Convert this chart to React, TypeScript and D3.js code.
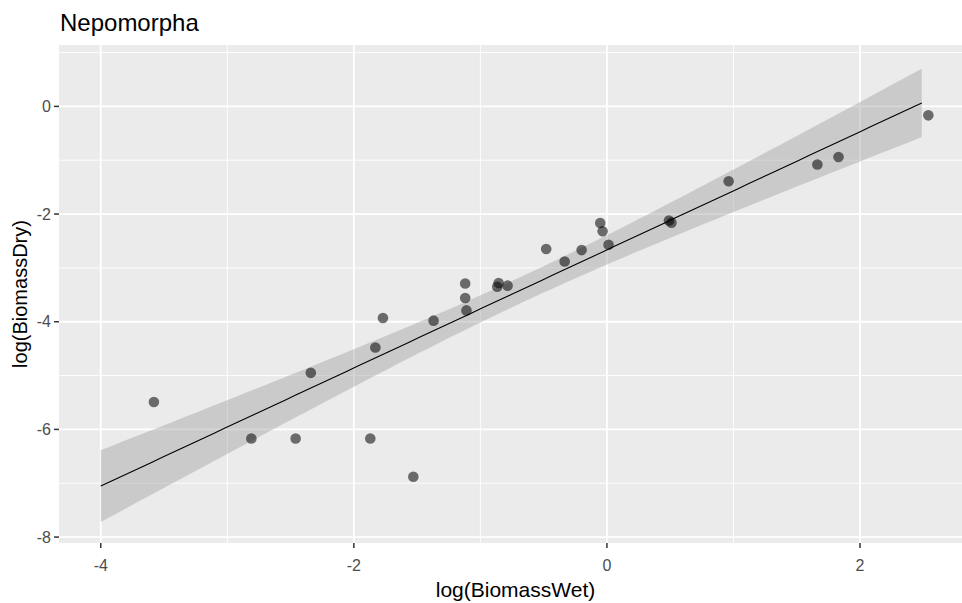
import React from "react";
import * as d3 from "d3";

// Observations (natural log of wet and dry biomass)
const wetLog = [
  -3.58, -2.81, -2.46, -2.34, -1.87, -1.83, -1.77, -1.53, -1.37, -1.12, -1.12, -1.11,
  -0.856, -0.867, -0.785, -0.48, -0.334, -0.2, -0.053, -0.034, 0.013, 0.49, 0.51,
  0.962, 1.663, 1.83, 2.54,
];
const dryLog = [
  -5.49, -6.17, -6.17, -4.95, -6.17, -4.48, -3.93, -6.88, -3.98, -3.29, -3.56, -3.79,
  -3.28, -3.35, -3.33, -2.65, -2.88, -2.67, -2.165, -2.32, -2.57, -2.12, -2.16,
  -1.39, -1.08, -0.94, -0.167,
];

// Linear fit and its 95% confidence band
const FIT_X_RANGE = [-4, 2.488];
const FIT_INTERCEPT = -2.665;
const FIT_SLOPE = 1.097;
const FIT_X_MEAN = -0.663;
const FIT_HALF_MIN = 0.244; // half-width of the band at the mean of x
const FIT_HALF_GROWTH = 0.186; // growth of the half-width away from the mean

// Axes
const X_LIMITS = [-4.33, 2.885];
const Y_LIMITS = [-8.11, 1.14];
const xMajor = [-4, -2, 0, 2];
const xMinor = [-3, -1, 1];
const yMajor = [-8, -6, -4, -2, 0];
const yMinor = [-7, -5, -3, -1, 1];

const TITLE = "Nepomorpha";
const X_TITLE = "log(BiomassWet)";
const Y_TITLE = "log(BiomassDry)";

const W = 962;
const H = 603;
const panel = { left: 59, right: 972, top: 45, bottom: 543 };
const FONT = "'Liberation Sans', Arial, Helvetica, sans-serif";

export default function App() {
  const x = d3.scaleLinear().domain(X_LIMITS).range([panel.left, panel.right]);
  const y = d3.scaleLinear().domain(Y_LIMITS).range([panel.bottom, panel.top]);

  const fitXs = d3.range(0, 81).map(
    (i) => FIT_X_RANGE[0] + ((FIT_X_RANGE[1] - FIT_X_RANGE[0]) * i) / 80
  );
  const band = fitXs.map((xv) => {
    const fit = FIT_INTERCEPT + FIT_SLOPE * xv;
    const half = Math.sqrt(
      FIT_HALF_MIN ** 2 + FIT_HALF_GROWTH ** 2 * (xv - FIT_X_MEAN) ** 2
    );
    return { x: xv, fit, lo: fit - half, hi: fit + half };
  });

  const area = d3
    .area<{ x: number; lo: number; hi: number }>()
    .x((d) => x(d.x))
    .y0((d) => y(d.lo))
    .y1((d) => y(d.hi));
  const line = d3
    .line<{ x: number; fit: number }>()
    .x((d) => x(d.x))
    .y((d) => y(d.fit));

  const pw = panel.right - panel.left;
  const ph = panel.bottom - panel.top;

  return (
    <svg
      width={W}
      height={H}
      style={{ position: "absolute", left: 0, top: 0, background: "#fff" }}
      fontFamily={FONT}
    >
      <defs>
        <clipPath id="panel-clip">
          <rect x={panel.left} y={panel.top} width={pw} height={ph} />
        </clipPath>
      </defs>

      <text x={60} y={31} fontSize={24} fill="#000">
        {TITLE}
      </text>

      <rect x={panel.left} y={panel.top} width={pw} height={ph} fill="#EBEBEB" />

      <g clipPath="url(#panel-clip)">
        {yMinor.map((v) => (
          <line key={`ym${v}`} x1={panel.left} x2={panel.right} y1={y(v)} y2={y(v)} stroke="#fff" strokeWidth={0.9} />
        ))}
        {xMinor.map((v) => (
          <line key={`xm${v}`} x1={x(v)} x2={x(v)} y1={panel.top} y2={panel.bottom} stroke="#fff" strokeWidth={0.9} />
        ))}
        {yMajor.map((v) => (
          <line key={`yM${v}`} x1={panel.left} x2={panel.right} y1={y(v)} y2={y(v)} stroke="#fff" strokeWidth={1.8} />
        ))}
        {xMajor.map((v) => (
          <line key={`xM${v}`} x1={x(v)} x2={x(v)} y1={panel.top} y2={panel.bottom} stroke="#fff" strokeWidth={1.8} />
        ))}

        <path d={area(band) ?? ""} fill="#999999" fillOpacity={0.4} />
        <path d={line(band) ?? ""} fill="none" stroke="#000" strokeWidth={1.1} />

        {wetLog.map((wv, i) => (
          <circle key={i} cx={x(wv)} cy={y(dryLog[i])} r={5.3} fill="#000" fillOpacity={0.55} />
        ))}
      </g>

      {/* y axis */}
      {yMajor.map((v) => (
        <g key={`yt${v}`}>
          <line x1={panel.left - 5} x2={panel.left} y1={y(v)} y2={y(v)} stroke="#333" strokeWidth={1.5} />
          <text x={panel.left - 8} y={y(v)} dy="0.35em" textAnchor="end" fontSize={16} fill="#4D4D4D">
            {v}
          </text>
        </g>
      ))}
      {/* x axis */}
      {xMajor.map((v) => (
        <g key={`xt${v}`}>
          <line x1={x(v)} x2={x(v)} y1={panel.bottom} y2={panel.bottom + 5} stroke="#333" strokeWidth={1.5} />
          <text x={x(v)} y={panel.bottom + 28} textAnchor="middle" fontSize={16} fill="#4D4D4D">
            {v}
          </text>
        </g>
      ))}

      <text x={(panel.left + panel.right) / 2} y={597} textAnchor="middle" fontSize={21} fill="#000">
        {X_TITLE}
      </text>
      <text
        transform={`translate(27, ${(panel.top + panel.bottom) / 2}) rotate(-90)`}
        textAnchor="middle"
        fontSize={20}
        fill="#000"
      >
        {Y_TITLE}
      </text>
    </svg>
  );
}
